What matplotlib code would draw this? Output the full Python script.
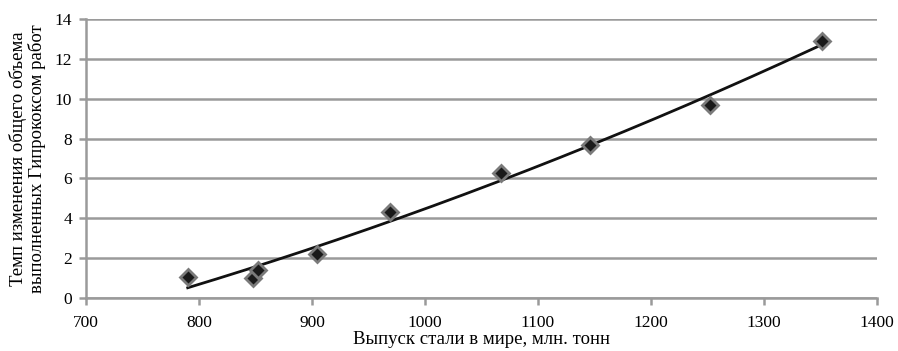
import matplotlib
import numpy as np

matplotlib.use("Agg")
import matplotlib.pyplot as plt

plt.rcParams["font.family"] = ["Liberation Serif", "DejaVu Serif"]

# world steel output, mln t
steel = [790, 848, 852, 904, 969, 1067, 1146, 1252, 1351]
# growth rate of total work done by Giprokoks
rate = [1.05, 1.0, 1.4, 2.2, 4.3, 6.25, 7.7, 9.7, 12.9]

x_ticks = [700, 800, 900, 1000, 1100, 1200, 1300, 1400]
y_ticks = [0, 2, 4, 6, 8, 10, 12, 14]

GRID = "#9a9a9a"

fig = plt.figure(figsize=(8.98, 3.51), dpi=100, facecolor="white")
ax = fig.add_axes([0.0958, 0.151, 0.8808, 0.795])

ax.set_axisbelow(True)
ax.yaxis.grid(True, color=GRID, lw=1.8)

# quadratic trend line
coef = np.polyfit(steel, rate, 2)
xs = np.linspace(min(steel), max(steel), 200)
ax.plot(xs, np.polyval(coef, xs), color="#111111", lw=2.0, zorder=2)

ax.plot(steel, rate, "D", ms=8, color="#1a1a1a", mec="#7a7a7a", mew=2.0, zorder=3)

ax.set_xlim(700, 1400)
ax.set_ylim(0, 14)
ax.set_xticks(x_ticks)
ax.set_yticks(y_ticks)
ax.tick_params(axis="both", labelsize=12.5, color=GRID, width=1.8, length=5, direction="out")
ax.tick_params(axis="x", pad=7)
ax.tick_params(axis="y", pad=5)
for side in ("top", "right"):
    ax.spines[side].set_visible(False)
for side in ("left", "bottom"):
    ax.spines[side].set_color(GRID)
    ax.spines[side].set_linewidth(1.8)

ax.set_xlabel("Выпуск стали в мире, млн. тонн", fontsize=13.5, labelpad=0)
ax.set_ylabel("Темп изменения общего объема\nвыполненных Гипрококсом работ", fontsize=13.5,
              labelpad=6, linespacing=1.1)

fig.savefig("out.png", dpi=100)
